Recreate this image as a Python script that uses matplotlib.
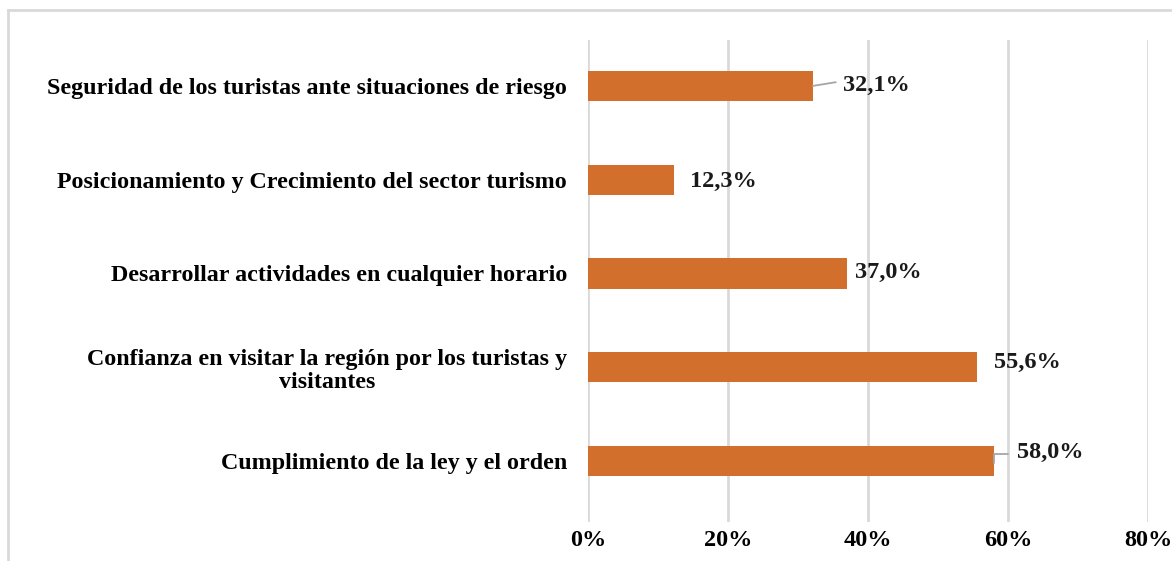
import matplotlib
matplotlib.use("Agg")
import matplotlib.pyplot as plt
from matplotlib.lines import Line2D

# data (bottom to top)
categories = ["Cumplimiento de la ley y el orden",
              "Confianza en visitar la región por los turistas y\nvisitantes",
              "Desarrollar actividades en cualquier horario",
              "Posicionamiento y Crecimiento del sector turismo",
              "Seguridad de los turistas ante situaciones de riesgo"]
values = [58.0, 55.6, 37.0, 12.3, 32.1]
ticks = [0, 20, 40, 60, 80]
tick_labels = ["0%", "20%", "40%", "60%", "80%"]

plt.rcParams['font.family'] = ['Liberation Serif', 'DejaVu Serif']
plt.rcParams['font.weight'] = 'bold'
fs = 17.5

fig = plt.figure(figsize=(11.72, 5.61), dpi=100)
ax = fig.add_axes([588/1172, 1-522/561, (1148-588)/1172, (522-40)/561])

ypos = list(range(len(categories)))
ax.barh(ypos, values, height=0.32, color='#D36F2D', zorder=3)

ax.set_xlim(0, 80)
ax.set_ylim(-0.65, 4.49)
ax.set_xticks(ticks)
ax.set_xticklabels(tick_labels, fontsize=fs, fontweight='bold')
ax.set_yticks(ypos)
ax.set_yticklabels(categories, fontsize=17.3, fontweight='bold', multialignment='center',
                   linespacing=1.15)
ax.tick_params(axis='both', length=0)
ax.tick_params(axis='y', pad=15)
ax.tick_params(axis='x', pad=6)
ax.grid(axis='x', color='#d9d9d9', linewidth=2, zorder=0)
for s in ax.spines.values():
    s.set_visible(False)

# data labels (offsets in points from bar end)
offsets = {0: (16.5, 6.5), 1: (12, 3.6), 2: (6, 1), 3: (11.5, -1.5), 4: (22, 0.5)}
for i, v in enumerate(values):
    dx, dy = offsets[i]
    lbl = ("%.1f%%" % v).replace(".", ",")
    ax.annotate(lbl, xy=(v, i), xytext=(dx, dy), textcoords='offset points',
                ha='left', va='center', fontsize=fs, fontweight='bold', color='#1a1a1a')

# leader lines
ax.annotate("", xy=(values[4], 4), xytext=(values[4] + 3.3, 4.04),
            arrowprops=dict(arrowstyle='-', color='#a6a6a6', lw=1.3,
                            shrinkA=0, shrinkB=0,
                            connectionstyle='arc3,rad=0.0'))
ax.annotate("", xy=(values[0], -0.02), xytext=(values[0] + 2.0, 0.07),
            arrowprops=dict(arrowstyle='-', color='#a6a6a6', lw=1.3,
                            shrinkA=0, shrinkB=0,
                            connectionstyle='angle,angleA=0,angleB=90,rad=0'))

# outer frame
fig.add_artist(Line2D([8/1172, 8/1172], [0, 1-10/561], color='#d9d9d9', lw=2, transform=fig.transFigure))
fig.add_artist(Line2D([8/1172, 1], [1-10/561, 1-10/561], color='#d9d9d9', lw=2, transform=fig.transFigure))

fig.savefig("out.png", dpi=100)
